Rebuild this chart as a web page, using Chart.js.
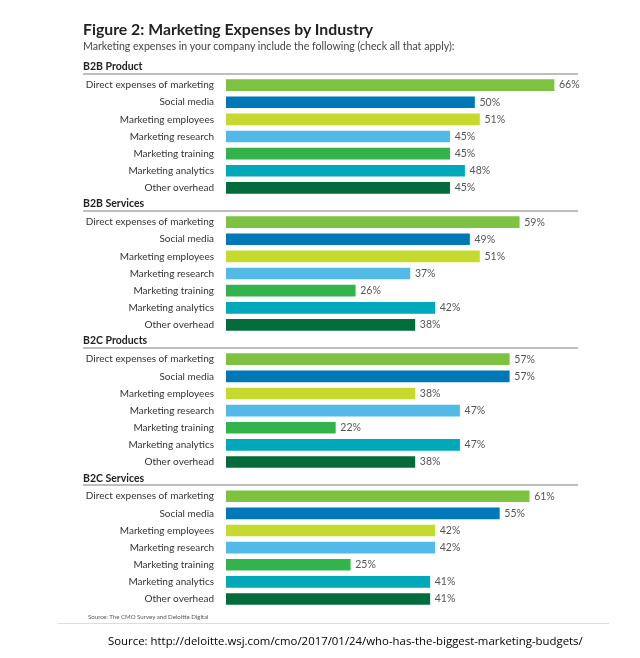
<!DOCTYPE html>
<html>
<head>
<meta charset="utf-8">
<script src="https://cdn.jsdelivr.net/npm/chart.js@4.4.0/dist/chart.umd.min.js"></script>
<style>
  body { margin: 0; background: #fff; }
  #wrap { position: relative; width: 640px; height: 658px; }
  #myChart { position: absolute; left: 0; top: 0; }
  .txt { position: absolute; white-space: nowrap; }
  #title { left: 83px; top: 19px; font: bold 15.8px Lato, sans-serif; color: #222; }
  #subtitle { left: 83px; top: 40px; font: 10.6px Lato, sans-serif; color: #444; }
  #note { left: 88px; top: 613px; font: 6.1px Lato, sans-serif; color: #555; }
  #rule { left: 58px; top: 623px; width: 551px; height: 1px; background: #ddd; }
  #source { left: 108px; top: 633px; font: 11.4px "Open Sans", sans-serif; color: #000; }
</style>
</head>
<body>
<div id="wrap">
  <canvas id="myChart" width="640" height="658"></canvas>
  <div class="txt" id="title">Figure 2: Marketing Expenses by Industry</div>
  <div class="txt" id="subtitle">Marketing expenses in your company include the following (check all that apply):</div>
  <div class="txt" id="note">Source: The CMO Survey and Deloitte Digital</div>
  <div class="txt" id="rule"></div>
  <div class="txt" id="source">Source: http://deloitte.wsj.com/cmo/2017/01/24/who-has-the-biggest-marketing-budgets/</div>
</div>
<script>
var groups = ['B2B Product', 'B2B Services', 'B2C Products', 'B2C Services'];
var categories = ['Direct expenses of marketing', 'Social media', 'Marketing employees',
    'Marketing research', 'Marketing training', 'Marketing analytics', 'Other overhead'];
var b2bProduct = [66, 50, 51, 45, 45, 48, 45];
var b2bServices = [59, 49, 51, 37, 26, 42, 38];
var b2cProducts = [57, 57, 38, 47, 22, 47, 38];
var b2cServices = [61, 55, 42, 42, 25, 41, 41];
var catColors = ['#7dc242', '#0078b8', '#c5d92f', '#53b9e9', '#32b34b', '#00a8ba', '#046b3a'];

var groupValues = [b2bProduct, b2bServices, b2cProducts, b2cServices];

// one row for each group header, then its 7 bars
var labels = [], values = [], colors = [], isHeader = [];
groups.forEach(function (g, gi) {
    labels.push(g); values.push(null); colors.push('rgba(0,0,0,0)'); isHeader.push(true);
    categories.forEach(function (c, ci) {
        labels.push(c);
        values.push(groupValues[gi][ci]);
        colors.push(catColors[ci]);
        isHeader.push(false);
    });
});

var sectionPlugin = {
    id: 'sections',
    afterDatasetsDraw: function (chart) {
        var ctx = chart.ctx;
        var y = chart.scales.y;
        var meta = chart.getDatasetMeta(0);
        ctx.save();
        labels.forEach(function (lab, i) {
            var cy = y.getPixelForValue(i);
            if (isHeader[i]) {
                ctx.font = 'bold 10.5px Lato, sans-serif';
                ctx.fillStyle = '#222';
                ctx.textAlign = 'left';
                ctx.textBaseline = 'middle';
                ctx.fillText(lab, 83, cy - 1);
                ctx.strokeStyle = '#a8a8a8';
                ctx.lineWidth = 1.5;
                ctx.beginPath();
                ctx.moveTo(83, cy + 6);
                ctx.lineTo(578, cy + 6);
                ctx.stroke();
            } else {
                var bar = meta.data[i];
                ctx.font = '10.5px Lato, sans-serif';
                ctx.fillStyle = '#555';
                ctx.textAlign = 'left';
                ctx.textBaseline = 'middle';
                ctx.fillText(values[i] + '%', bar.x + 5, cy);
            }
        });
        ctx.restore();
    }
};

var ctx = document.getElementById('myChart').getContext('2d');
var myChart = new Chart(ctx, {
    type: 'bar',
    data: {
        labels: labels,
        datasets: [{
            data: values,
            backgroundColor: colors,
            borderWidth: 0,
            barThickness: 11
        }]
    },
    options: {
        indexAxis: 'y',
        responsive: false,
        animation: false,
        layout: { padding: { left: 80, top: 59.4, bottom: 50.4, right: 16.4 } },
        plugins: {
            legend: { display: false },
            tooltip: { enabled: false }
        },
        scales: {
            x: { display: false, min: 0, max: 80 },
            y: {
                grid: { display: false },
                border: { display: false },
                afterFit: function (scale) { scale.width = 146; },
                ticks: {
                    autoSkip: false,
                    padding: 4,
                    color: '#333',
                    font: { family: 'Lato, sans-serif', size: 10 },
                    callback: function (val, i) { return isHeader[i] ? '' : labels[i]; }
                }
            }
        }
    },
    plugins: [sectionPlugin]
});
</script>
</body>
</html>
